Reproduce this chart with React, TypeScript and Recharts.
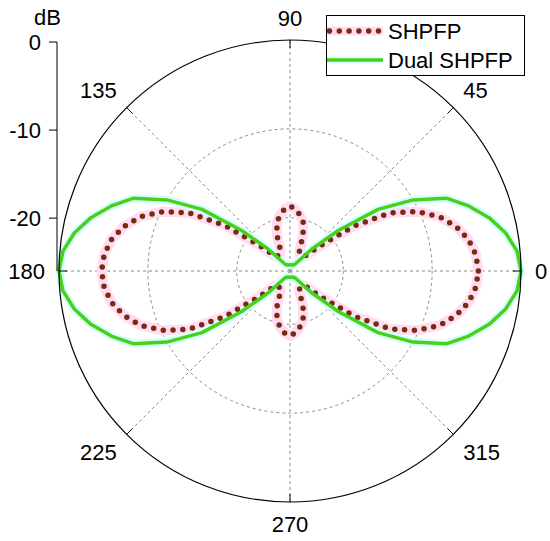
import { RadarChart, Radar, PolarGrid, PolarAngleAxis, PolarRadiusAxis, Legend, LineChart, YAxis } from "recharts"

// angle in degrees, values in dB
const angles = [
  0, 5, 10, 15, 20, 25, 30, 35, 40, 45, 50, 55, 60, 65, 70, 75, 80, 85,
  90, 95, 100, 105, 110, 115, 120, 125, 130, 135, 140, 145, 150, 155, 160, 165, 170, 175,
  180, 185, 190, 195, 200, 205, 210, 215, 220, 225, 230, 235, 240, 245, 250, 255, 260, 265,
  270, 275, 280, 285, 290, 295, 300, 305, 310, 315, 320, 325, 330, 335, 340, 345, 350, 355,
]

const shpfp = [
  -4.8, -5.0, -5.6, -6.65, -8.1, -10.2, -12.9, -17.1, -21.6, -23.7, -23.8, -23.8, -23.8, -23.5, -21.7, -20.3, -19.6, -19.0,
  -18.7, -19.0, -19.6, -20.3, -21.7, -23.5, -23.8, -23.8, -23.8, -23.7, -21.6, -17.1, -12.9, -10.2, -8.1, -6.65, -5.6, -5.0,
  -4.8, -5.0, -5.6, -6.65, -8.1, -10.2, -12.9, -17.1, -21.6, -23.7, -23.8, -23.8, -23.8, -23.5, -21.7, -20.3, -19.6, -19.0,
  -18.7, -19.0, -19.6, -20.3, -21.7, -23.5, -23.8, -23.8, -23.8, -23.7, -21.6, -17.1, -12.9, -10.2, -8.1, -6.65, -5.6, -5.0,
]

const dualShpfp = [
  0, -0.35, -1.35, -2.8, -4.6, -6.6, -10.0, -13.9, -18.9, -22.5, -24.6, -25.1, -25.2, -25.2, -25.3, -25.3, -25.3, -25.3,
  -25.3, -25.3, -25.3, -25.3, -25.3, -25.2, -25.2, -25.1, -24.6, -22.5, -18.9, -13.9, -10.0, -6.6, -4.6, -2.8, -1.35, -0.35,
  0, -0.35, -1.35, -2.8, -4.6, -6.6, -10.0, -13.9, -18.9, -22.5, -24.6, -25.1, -25.2, -25.2, -25.3, -25.3, -25.3, -25.3,
  -25.3, -25.3, -25.3, -25.3, -25.3, -25.2, -25.2, -25.1, -24.6, -22.5, -18.9, -13.9, -10.0, -6.6, -4.6, -2.8, -1.35, -0.35,
]

const angleTicks = [0, 45, 90, 135, 180, 225, 270, 315]
const dbTicks = [-20, -10, 0]
const dbDomain = [-26, 0]

const data = angles.map((a, i) => ({ angle: a, shpfp: shpfp[i], dual: dualShpfp[i] }))

const W = 550
const H = 541
const CX = 290
const CY = 271
const R = 231
const FONT = "'Liberation Sans', Arial, sans-serif"

const series = [
  { key: "shpfp", name: "SHPFP", color: "#7a2a10", halo: "#ffdcef", width: 5.5, haloWidth: 10, dash: "0 9.8" },
  { key: "dual", name: "Dual SHPFP", color: "#4ccf1a", halo: "#d4ffff", width: 3.5, haloWidth: 8, dash: undefined },
]

function AngleTick(props: any) {
  const deg = Number(props.payload?.coordinate ?? props.payload?.value)
  const a = (deg * Math.PI) / 180
  const cos = Math.cos(a)
  const sin = Math.sin(a)
  const lr = R + 14
  const lx = CX + lr * cos
  const ly = CY - lr * sin
  const anchor = cos > 0.1 ? "start" : cos < -0.1 ? "end" : "middle"
  const base = sin > 0.1 ? ly : sin < -0.1 ? ly + 15.8 : ly + 7.9
  return (
    <g>
      <line x1={CX + R * cos} y1={CY - R * sin} x2={CX + (R - 8) * cos} y2={CY - (R - 8) * sin} stroke="#000" strokeWidth={1} />
      <text x={lx} y={base} textAnchor={anchor} fontSize={22} fontFamily={FONT} fill="#000">
        {props.payload?.value}
      </text>
    </g>
  )
}

function LegendBox(props: any) {
  const names = (props.payload ?? []).filter((p: any) => p.type !== "none").map((p: any) => p.value)
  const items = series.filter((s) => names.includes(s.name))
  return (
    <div style={{ width: 199, height: 61, boxSizing: "border-box", border: "1px solid #000", background: "#fff" }}>
      <svg width={197} height={59} style={{ display: "block" }}>
        {items.map((s, i) => {
          const y = 15 + i * 29
          return (
            <g key={s.key}>
              <line x1={0} x2={56} y1={y} y2={y} stroke={s.halo} strokeWidth={s.haloWidth - 1} />
              <line
                x1={s.dash ? 2.5 : 0}
                x2={s.dash ? 54 : 56}
                y1={y}
                y2={y}
                stroke={s.color}
                strokeWidth={s.width}
                strokeDasharray={s.dash}
                strokeLinecap={s.dash ? "round" : "butt"}
              />
              <text x={61} y={y + 7.9} fontSize={22} fontFamily={FONT} fill="#000">
                {s.name}
              </text>
            </g>
          )
        })}
      </svg>
    </div>
  )
}

function DbLabel(props: any) {
  const vb = props.viewBox ?? { x: 0, y: 42, width: 57 }
  return (
    <text x={vb.x + vb.width - 9.5} y={vb.y - 17} textAnchor="middle" fontSize={22} fontFamily={FONT} fill="#000">
      dB
    </text>
  )
}

export default function App() {
  return (
    <div style={{ position: "absolute", left: 0, top: 0, width: W, height: H, background: "#fff", fontFamily: FONT }}>
      <div style={{ position: "absolute", left: 0, top: 0 }}>
        <RadarChart
          width={W}
          height={H}
          data={data}
          cx={CX}
          cy={CY}
          outerRadius={R}
          startAngle={0}
          endAngle={360}
          margin={{ top: 0, right: 0, bottom: 0, left: 0 }}
        >
          <PolarGrid gridType="circle" polarAngles={angleTicks} stroke="#8c8c8c" strokeDasharray="3 3" />
          <PolarRadiusAxis type="number" domain={dbDomain} ticks={dbTicks.slice(0, 2)} tick={false} axisLine={false} tickLine={false} />
          <PolarAngleAxis
            dataKey="angle"
            type="number"
            domain={[0, 360]}
            ticks={angleTicks}
            axisLineType="circle"
            axisLine={{ stroke: "#000", strokeWidth: 1.2 }}
            tickLine={false}
            tick={<AngleTick />}
          />
          {series.map((s) => (
            <Radar
              key={s.key + "-halo"}
              dataKey={s.key}
              stroke={s.halo}
              strokeWidth={s.haloWidth}
              strokeLinejoin="round"
              fill="none"
              fillOpacity={0}
              legendType="none"
              isAnimationActive={false}
            />
          ))}
          {series.map((s) => (
            <Radar
              key={s.key}
              name={s.name}
              dataKey={s.key}
              stroke={s.color}
              strokeWidth={s.width}
              strokeDasharray={s.dash}
              strokeLinecap={s.dash ? "round" : "butt"}
              strokeLinejoin="round"
              fill="none"
              fillOpacity={0}
              isAnimationActive={false}
            />
          ))}
          <Legend
            layout="vertical"
            align="center"
            verticalAlign="middle"
            wrapperStyle={{ left: 326, top: 15, width: 199, height: 61 }}
            content={<LegendBox />}
          />
        </RadarChart>
      </div>
      <div style={{ position: "absolute", left: 0, top: 0 }}>
        <LineChart width={100} height={H} data={dbTicks.map((v) => ({ v }))} margin={{ top: 42, right: 20, bottom: H - CY, left: 0 }}>
          <YAxis
            type="number"
            dataKey="v"
            domain={dbDomain}
            ticks={dbTicks}
            interval={0}
            width={57}
            tickSize={8}
            tickMargin={8}
            axisLine={{ stroke: "#000" }}
            tickLine={{ stroke: "#000" }}
            tick={{ fill: "#000", fontSize: 22, fontFamily: FONT }}
            label={<DbLabel />}
          />
        </LineChart>
      </div>
    </div>
  )
}
